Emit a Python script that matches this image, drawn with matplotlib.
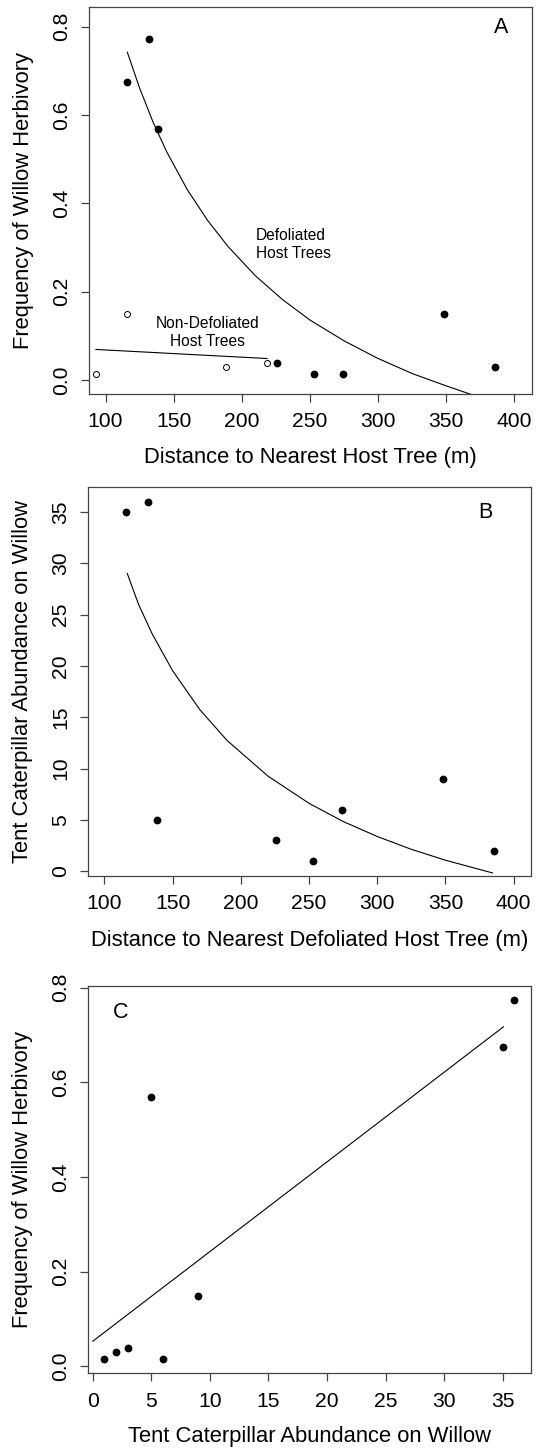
import matplotlib
matplotlib.use("Agg")
import matplotlib.pyplot as plt

plt.rcParams["font.family"] = ["Liberation Sans", "DejaVu Sans"]

# ---- data ----
# panel A: distance to nearest host tree vs herbivory frequency
dist_defol = [116, 132, 138.5, 225.5, 253, 274, 348, 385.5]
herb_defol = [0.675, 0.773, 0.569, 0.039, 0.015, 0.015, 0.149, 0.030]
dist_nondefol = [93, 116, 188.5, 218.5]
herb_nondefol = [0.015, 0.149, 0.030, 0.039]

# fitted curves
fitA_x = [116, 125, 135, 145, 160, 175, 190, 210, 230, 250, 275, 300, 325, 350, 368]
fitA_y = [0.742, 0.661, 0.583, 0.516, 0.431, 0.361, 0.302, 0.236, 0.182,
          0.136, 0.089, 0.049, 0.015, -0.013, -0.032]
fitA_non_x = [93, 218.5]
fitA_non_y = [0.0695, 0.049]

# panel B: caterpillar abundance on willow
caterp = [35, 36, 5, 3, 1, 6, 9, 2]
fitB_x = [116.75, 125, 135, 150, 170, 190, 220, 250, 275, 300, 325, 350, 384.5]
fitB_y = [29.0, 26.0, 23.12, 19.53, 15.73, 12.73, 9.26, 6.62, 4.85, 3.39,
          2.14, 1.08, -0.16]

# panel C: linear fit herbivory ~ abundance
fitC_x = [0, 35.06]
fitC_y = [0.0527, 0.717]

TICK_FS = 15.2
LAB_FS = 15.8
NOTE_FS = 11.2
FRAME = "#444444"


def style_axes(ax):
    for s in ax.spines.values():
        s.set_color(FRAME)
        s.set_linewidth(0.9)
    ax.tick_params(direction="out", length=6, width=0.9, color=FRAME,
                   labelsize=TICK_FS, pad=7)
    for lab in ax.get_yticklabels():
        lab.set_rotation(90)
        lab.set_va("center")


def labels(ax, xlab, ylab):
    ax.set_xlabel(xlab, fontsize=LAB_FS, va="center")
    ax.xaxis.set_label_coords(0.5, -0.164)
    ax.set_ylabel(ylab, fontsize=LAB_FS, va="center")
    ax.yaxis.set_label_coords(-0.149, 0.5)


fig = plt.figure(figsize=(5.37, 14.54), dpi=100)
axA = fig.add_axes([0.166, 0.7288, 0.8238, 0.2666])
axB = fig.add_axes([0.164, 0.3973, 0.8255, 0.2680])
axC = fig.add_axes([0.164, 0.0554, 0.8246, 0.2665])

# ---- A ----
axA.plot(fitA_x, fitA_y, color="black", lw=0.8)
axA.plot(fitA_non_x, fitA_non_y, color="black", lw=0.8)
axA.plot(dist_defol, herb_defol, "o", color="black", ms=4.6)
axA.plot(dist_nondefol, herb_nondefol, "o", mfc="white", mec="black",
         mew=0.7, ms=4.3)
axA.text(210.5, 0.307, "Defoliated\nHost Trees", fontsize=NOTE_FS,
         ha="left", va="center", linespacing=1.25)
axA.text(174.5, 0.107, "Non-Defoliated\nHost Trees", fontsize=NOTE_FS,
         ha="center", va="center", linespacing=1.25)
axA.text(390.5, 0.797, "A", fontsize=15.5, ha="center", va="center")
axA.set_xlim(88, 412.5)
axA.set_ylim(-0.032, 0.845)
axA.set_xticks(range(100, 401, 50))
axA.set_yticks([0.0, 0.2, 0.4, 0.6, 0.8])
axA.set_yticklabels(["0.0", "0.2", "0.4", "0.6", "0.8"])
style_axes(axA)
labels(axA, "Distance to Nearest Host Tree (m)", "Frequency of Willow Herbivory")

# ---- B ----
axB.plot(fitB_x, fitB_y, color="black", lw=0.8)
axB.plot(dist_defol, caterp, "o", color="black", ms=4.6)
axB.text(379.5, 34.9, "B", fontsize=15.5, ha="center", va="center")
axB.set_xlim(88, 413)
axB.set_ylim(-0.49, 37.46)
axB.set_xticks(range(100, 401, 50))
axB.set_yticks(range(0, 36, 5))
style_axes(axB)
labels(axB, "Distance to Nearest Defoliated Host Tree (m)",
       "Tent Caterpillar Abundance on Willow")

# ---- C ----
axC.plot(fitC_x, fitC_y, color="black", lw=0.8)
axC.plot(caterp, herb_defol, "o", color="black", ms=4.6)
axC.text(2.4, 0.747, "C", fontsize=15.5, ha="center", va="center")
axC.set_xlim(-0.4, 37.4)
axC.set_ylim(-0.0153, 0.8033)
axC.set_xticks(range(0, 36, 5))
axC.set_yticks([0.0, 0.2, 0.4, 0.6, 0.8])
axC.set_yticklabels(["0.0", "0.2", "0.4", "0.6", "0.8"])
style_axes(axC)
labels(axC, "Tent Caterpillar Abundance on Willow", "Frequency of Willow Herbivory")

fig.savefig("out.png", dpi=100)
